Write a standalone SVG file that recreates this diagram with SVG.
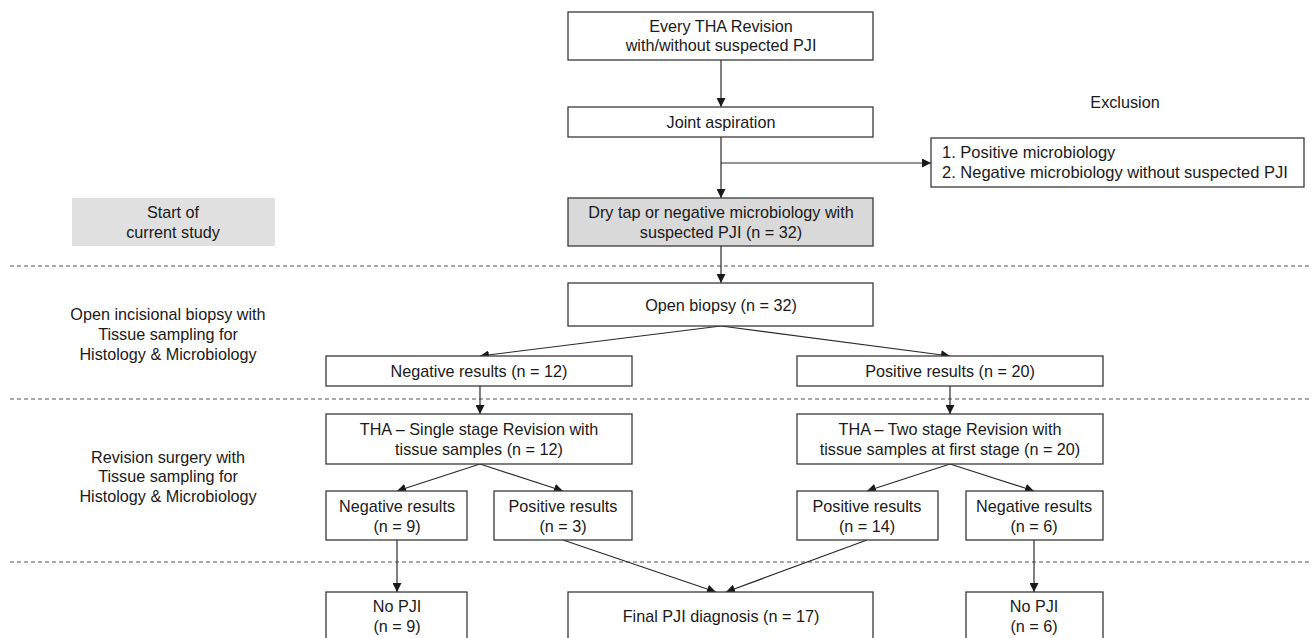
<svg xmlns="http://www.w3.org/2000/svg" width="1312" height="638" viewBox="0 0 1312 638">
<defs>
<style>
.box{fill:#fff;stroke:#3a3a3a;stroke-width:1.3}
.gbox{fill:#d9d9d9;stroke:#3a3a3a;stroke-width:1.3}
.t{font-family:"Liberation Sans",Arial,sans-serif;font-size:16.2px;fill:#1a1a1a;text-anchor:middle}
.tl{font-family:"Liberation Sans",Arial,sans-serif;font-size:16.5px;fill:#1a1a1a;text-anchor:start}
.c{stroke:#2a2a2a;stroke-width:1.2;fill:none}
.d{stroke:#555;stroke-width:1.2;stroke-dasharray:4 3;fill:none}
</style>
<marker id="ah" viewBox="0 0 10 10" refX="10" refY="5" markerWidth="9" markerHeight="9" markerUnits="userSpaceOnUse" orient="auto">
<path d="M0,0 L10,5 L0,10 Z" fill="#1a1a1a"/>
</marker>
</defs>
<rect width="1312" height="638" fill="#fff"/>

<g id="separators">
<line class="d" x1="10" y1="266" x2="1312" y2="266"/>
<line class="d" x1="10" y1="399" x2="1312" y2="399"/>
<line class="d" x1="10" y1="562" x2="1312" y2="562"/>
</g>

<g id="labels">
<text class="t" x="1125" y="108">Exclusion</text>
<g id="start-label">
<rect x="72" y="198" width="203" height="48" fill="#e0e0e0"/>
<text class="t" x="173" y="218">Start of</text>
<text class="t" x="173" y="238">current study</text>
</g>
<g id="biopsy-label">
<text class="t" x="168" y="320">Open incisional biopsy with</text>
<text class="t" x="168" y="340">Tissue sampling for</text>
<text class="t" x="168" y="360">Histology &amp; Microbiology</text>
</g>
<g id="revision-label">
<text class="t" x="168" y="463">Revision surgery with</text>
<text class="t" x="168" y="482">Tissue sampling for</text>
<text class="t" x="168" y="502">Histology &amp; Microbiology</text>
</g>
</g>

<g id="connectors">
<line class="c" x1="721" y1="60" x2="721" y2="107" marker-end="url(#ah)"/>
<line class="c" x1="721" y1="137" x2="721" y2="198" marker-end="url(#ah)"/>
<line class="c" x1="721" y1="163" x2="931" y2="163" marker-end="url(#ah)"/>
<line class="c" x1="721" y1="246" x2="721" y2="283" marker-end="url(#ah)"/>
<line class="c" x1="721" y1="326" x2="480" y2="356" marker-end="url(#ah)"/>
<line class="c" x1="721" y1="326" x2="950" y2="356" marker-end="url(#ah)"/>
<line class="c" x1="480" y1="386" x2="480" y2="414" marker-end="url(#ah)"/>
<line class="c" x1="950" y1="386" x2="950" y2="414" marker-end="url(#ah)"/>
<line class="c" x1="480" y1="464" x2="397" y2="491" marker-end="url(#ah)"/>
<line class="c" x1="480" y1="464" x2="563" y2="491" marker-end="url(#ah)"/>
<line class="c" x1="950" y1="464" x2="867" y2="491" marker-end="url(#ah)"/>
<line class="c" x1="950" y1="464" x2="1034" y2="491" marker-end="url(#ah)"/>
<line class="c" x1="397" y1="540" x2="397" y2="592" marker-end="url(#ah)"/>
<line class="c" x1="1034" y1="540" x2="1034" y2="592" marker-end="url(#ah)"/>
<line class="c" x1="563" y1="540" x2="716" y2="592" marker-end="url(#ah)"/>
<line class="c" x1="867" y1="540" x2="726" y2="592" marker-end="url(#ah)"/>
</g>

<g id="n-every">
<rect class="box" x="568" y="12" width="305" height="48"/>
<text class="t" x="721" y="32">Every THA Revision</text>
<text class="t" x="721" y="51">with/without suspected PJI</text>
</g>
<g id="n-aspiration">
<rect class="box" x="568" y="107" width="305" height="30"/>
<text class="t" x="721" y="128">Joint aspiration</text>
</g>
<g id="n-exclusion">
<rect class="box" x="931" y="138" width="373" height="49"/>
<text class="tl" x="942" y="158">1. Positive microbiology</text>
<text class="tl" x="942" y="178">2. Negative microbiology without suspected PJI</text>
</g>
<g id="n-drytap">
<rect class="gbox" x="568" y="198" width="305" height="48"/>
<text class="t" x="721" y="218">Dry tap or negative microbiology with</text>
<text class="t" x="721" y="238">suspected PJI (n = 32)</text>
</g>
<g id="n-openbiopsy">
<rect class="box" x="568" y="283" width="305" height="43"/>
<text class="t" x="721" y="311">Open biopsy (n = 32)</text>
</g>
<g id="n-neg12">
<rect class="box" x="326" y="356" width="306" height="30"/>
<text class="t" x="479" y="377">Negative results (n = 12)</text>
</g>
<g id="n-pos20">
<rect class="box" x="797" y="356" width="306" height="30"/>
<text class="t" x="950" y="377">Positive results (n = 20)</text>
</g>
<g id="n-single">
<rect class="box" x="326" y="414" width="306" height="50"/>
<text class="t" x="479" y="435">THA – Single stage Revision with</text>
<text class="t" x="479" y="455">tissue samples (n = 12)</text>
</g>
<g id="n-two">
<rect class="box" x="797" y="414" width="306" height="50"/>
<text class="t" x="950" y="435">THA – Two stage Revision with</text>
<text class="t" x="950" y="455">tissue samples at first stage (n = 20)</text>
</g>
<g id="n-neg9">
<rect class="box" x="326" y="491" width="141" height="49"/>
<text class="t" x="397" y="512">Negative results</text>
<text class="t" x="397" y="532">(n = 9)</text>
</g>
<g id="n-pos3">
<rect class="box" x="494" y="491" width="138" height="49"/>
<text class="t" x="563" y="512">Positive results</text>
<text class="t" x="563" y="532">(n = 3)</text>
</g>
<g id="n-pos14">
<rect class="box" x="797" y="491" width="141" height="49"/>
<text class="t" x="867" y="512">Positive results</text>
<text class="t" x="867" y="532">(n = 14)</text>
</g>
<g id="n-neg6">
<rect class="box" x="966" y="491" width="137" height="49"/>
<text class="t" x="1034" y="512">Negative results</text>
<text class="t" x="1034" y="532">(n = 6)</text>
</g>
<g id="n-nopji9">
<rect class="box" x="326" y="592" width="141" height="60"/>
<text class="t" x="397" y="612">No PJI</text>
<text class="t" x="397" y="632">(n = 9)</text>
</g>
<g id="n-final">
<rect class="box" x="568" y="592" width="305" height="60"/>
<text class="t" x="721" y="622">Final PJI diagnosis (n = 17)</text>
</g>
<g id="n-nopji6">
<rect class="box" x="966" y="592" width="137" height="60"/>
<text class="t" x="1034" y="612">No PJI</text>
<text class="t" x="1034" y="632">(n = 6)</text>
</g>
</svg>
